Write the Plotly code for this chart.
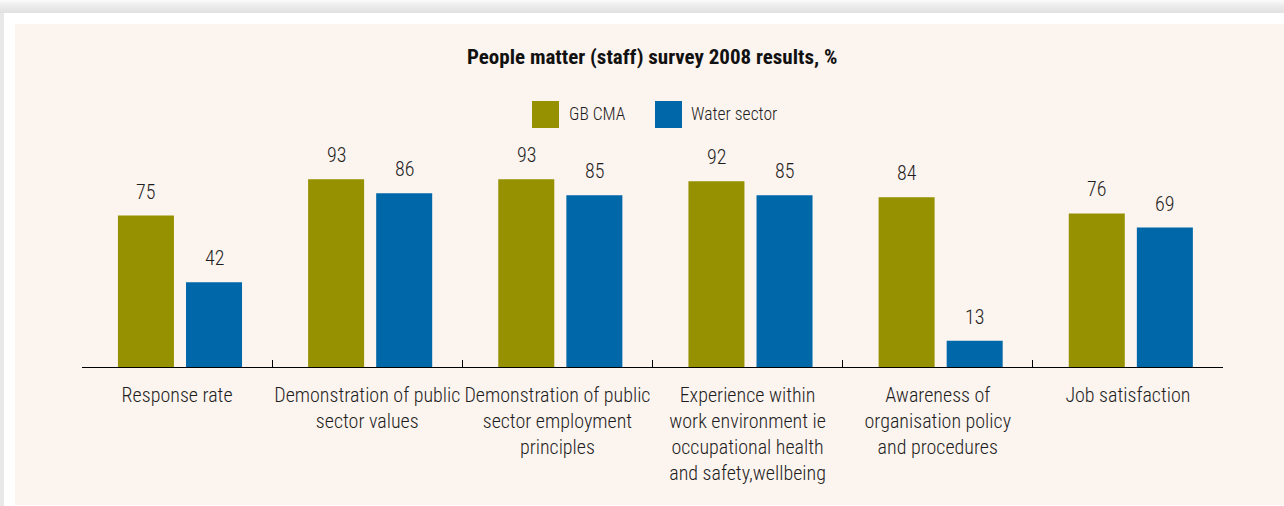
import plotly.graph_objects as go

# Survey results, percent
categories = [
    "Response rate",
    "Demonstration of public<br>sector values",
    "Demonstration of public<br>sector employment<br>principles",
    "Experience within<br>work environment ie<br>occupational health<br>and safety,wellbeing",
    "Awareness of<br>organisation policy<br>and procedures",
    "Job satisfaction",
]
gb_cma = [75, 93, 93, 92, 84, 76]
water_sector = [42, 86, 85, 85, 13, 69]
series_names = ["GB CMA", "Water sector"]

OLIVE = "#969100"
BLUE = "#0067a8"
PANEL = "#fcf4ef"
TEXT = "#1e1e1e"
FONT = "Roboto Condensed, Liberation Sans Narrow, sans-serif"

W, H = 1284, 506
L, R, T, B = 82, 1223, 140, 367  # plot area in pixels
Y_MAX = (B - T) / 2.02

BAR_W = 0.2945
OFFSETS = [-0.311, 0.047]


def px_x(px):
    return (px - L) / (R - L)


def px_y(py):
    return (B - py) / (B - T)


fig = go.Figure()
for name, vals, color, off in zip(series_names, [gb_cma, water_sector], [OLIVE, BLUE], OFFSETS):
    fig.add_trace(go.Bar(
        x=categories, y=vals, name=name, marker_color=color,
        marker_line_width=0, width=BAR_W, offset=off, showlegend=False,
        hoverinfo="x+y+name",
    ))

annotations = []
# value labels above each bar
for vals, off in zip([gb_cma, water_sector], OFFSETS):
    for i, v in enumerate(vals):
        annotations.append(dict(
            x=i + off + BAR_W / 2, y=v, xref="x", yref="y",
            text=str(v), showarrow=False, yanchor="bottom", yshift=10,
            font=dict(family=FONT, size=20, color=TEXT, weight=300),
        ))

# title
annotations.append(dict(
    x=px_x(652), y=px_y(57), xref="paper", yref="paper",
    text="<b>People matter (staff) survey 2008 results, %</b>", showarrow=False,
    xanchor="center", yanchor="middle",
    font=dict(family=FONT, size=21, color="#111111"),
))

shapes = []
# page shadow and panel
shades = ["#fafafa", "#f7f7f7", "#f4f4f4", "#f2f2f2", "#efefef", "#ededed",
          "#ebebeb", "#e9e9e9", "#e7e7e7", "#e6e6e6", "#e4e4e4", "#e3e3e3", "#e2e2e2"]
for k, c in enumerate(shades):
    shapes.append(dict(type="rect", xref="paper", yref="paper", layer="below",
                       x0=px_x(0), x1=px_x(W), y0=px_y(k), y1=px_y(k + 1),
                       fillcolor=c, line_width=0))
shapes.append(dict(type="rect", xref="paper", yref="paper", layer="below",
                   x0=px_x(0), x1=px_x(4), y0=px_y(13), y1=px_y(H),
                   fillcolor="#e8e8e8", line_width=0))
shapes.append(dict(type="rect", xref="paper", yref="paper", layer="below",
                   x0=px_x(15), x1=px_x(W), y0=px_y(24), y1=px_y(505),
                   fillcolor=PANEL, line_width=0))

# legend swatches and labels
legend_items = [(532, OLIVE, 567, series_names[0]), (655, BLUE, 689, series_names[1])]
for sx, color, tx, label in legend_items:
    shapes.append(dict(type="rect", xref="paper", yref="paper",
                       x0=px_x(sx), x1=px_x(sx + 27), y0=px_y(101), y1=px_y(128),
                       fillcolor=color, line_width=0))
    annotations.append(dict(
        x=px_x(tx), y=px_y(114), xref="paper", yref="paper", text=label,
        showarrow=False, xanchor="left", yanchor="middle",
        font=dict(family=FONT, size=17.5, color=TEXT, weight=300),
    ))

fig.update_layout(
    width=W, height=H,
    margin=dict(l=L, r=W - R, t=T, b=H - B, pad=0, autoexpand=False),
    paper_bgcolor="white", plot_bgcolor="rgba(0,0,0,0)",
    barmode="group", showlegend=False,
    shapes=shapes, annotations=annotations,
    font=dict(family=FONT, size=20, color=TEXT),
)
fig.update_xaxes(
    showline=True, linecolor="black", linewidth=1.2,
    ticks="inside", ticklen=7, tickwidth=1.2, tickcolor="black",
    tickson="boundaries", showgrid=False, zeroline=False,
    tickfont=dict(family=FONT, size=20, color=TEXT, weight=300),
    tickangle=0, automargin=False,
    ticklabelstandoff=10, range=[-0.5, 5.5],
)
fig.update_yaxes(visible=False, range=[0, Y_MAX], showgrid=False, zeroline=False)

fig.write_html("out.html")
